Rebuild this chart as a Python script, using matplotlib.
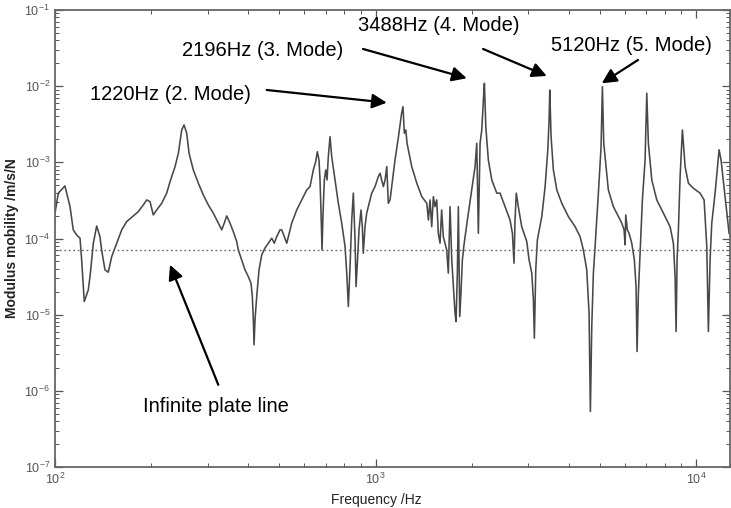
"""Point mobility of a plate: modulus vs frequency, log-log, with mode labels."""
import matplotlib
matplotlib.use("Agg")
import matplotlib.pyplot as plt
from matplotlib.ticker import LogLocator, LogFormatterMathtext, NullFormatter

freq_hz = [
	100, 102.4, 107.4, 111.4, 114.0, 116.9, 119.7, 121.1, 123.4, 127.0, 128.6, 131.7, 134.9, 138.1,
	139.8, 143.2, 146.6, 150.3, 155.8, 161.5, 167.4, 175.5, 181.9, 188.6, 193.3, 197.9, 202.6, 207.6,
	215.2, 223.1, 228.5,
	236.9, 242.6, 248.5, 252.7, 257.6, 261.9, 270.1, 280.0, 290.2, 300.8, 311.8, 323.2, 331.2, 337.4,
	343.3, 351.6, 360.0, 368.9, 373.2, 382.4, 391.6, 401.0, 408.8, 412.7, 415.7, 417.8, 420.7, 425.9,
	433.0, 441.5, 452.1, 463.0, 474.4, 483.3, 491.8, 503.6,
	509.8, 528.4, 547.7, 567.7, 588.5, 610.0, 624.6, 639.6, 650.7, 658.2, 666.3, 671.1, 676.1, 680.9,
	685.8, 692.3, 699.2, 705.8, 712.4, 721.1, 729.9, 747.5, 765.5, 784.4, 803.3, 813.2, 822.6, 832.6,
	842.9, 852.6, 863.0, 869.4, 877.4, 888.2, 901.1, 909.4, 915.9, 927.1, 938.5, 949.5, 973.0, 996.3,
	1020, 1033, 1045, 1058, 1071, 1084, 1096,
	1110, 1123, 1150, 1179, 1206, 1218, 1230, 1243, 1254, 1297, 1345, 1394, 1445, 1462, 1479, 1497,
	1515, 1533, 1552, 1570, 1589, 1608, 1627, 1667, 1687, 1708, 1729, 1749, 1770, 1783, 1800, 1813,
	1831, 1849, 1866, 1885, 1903, 1948, 1996, 2044, 2069, 2093, 2119, 2145, 2170, 2186, 2208, 2249,
	2305, 2389,
	2446, 2536, 2628, 2673, 2704, 2724, 2749, 2789, 2858, 2964, 3013, 3072, 3108, 3130, 3161, 3198,
	3301, 3381, 3447, 3479, 3496, 3529, 3588, 3677, 3811, 3996, 4194, 4346, 4450, 4560, 4636, 4680,
	4727, 4782, 4841, 4957, 5054, 5102, 5152, 5264,
	5325, 5521, 5723, 5864, 5962, 6005, 6035, 6105, 6180, 6300, 6419, 6498, 6545, 6607, 6688, 6800,
	6933, 7018, 7099, 7275, 7541, 7722, 8004, 8297, 8496, 8601, 8663, 8725, 8808, 8916, 9066, 9243,
	9463, 9809, 10292, 10593, 10669, 10800, 10925, 11059, 11194, 11463, 11798, 11967, 12316, 12676,
]
mobility = [
	2.15e-4, 3.94e-4, 4.90e-4, 2.62e-4, 1.30e-4, 1.11e-4, 1.01e-4, 5.24e-5, 1.49e-5, 2.11e-5, 3.16e-5,
	8.67e-5, 1.46e-4, 1.06e-4, 7.08e-5, 3.87e-5, 3.61e-5, 5.79e-5, 8.67e-5, 1.30e-4, 1.67e-4, 1.98e-4,
	2.25e-4, 2.76e-4, 3.21e-4, 3.05e-4, 2.04e-4, 2.37e-4, 2.90e-4, 3.94e-4, 5.58e-4,
	8.79e-4, 1.32e-3, 2.66e-3, 3.10e-3, 2.41e-3, 1.32e-3, 7.94e-4, 5.32e-4, 3.73e-4, 2.76e-4, 2.15e-4,
	1.59e-4, 1.30e-4, 1.59e-4, 1.98e-4, 1.59e-4, 1.23e-4, 9.10e-5, 7.08e-5, 5.24e-5, 3.87e-5, 3.16e-5,
	2.59e-5, 1.73e-5, 8.55e-6, 4.02e-6, 8.55e-6, 1.73e-5, 3.87e-5, 6.10e-5, 7.53e-5, 8.67e-5, 1.01e-4,
	8.67e-5, 1.06e-4, 1.30e-4,
	1.30e-4, 8.67e-5, 1.59e-4, 2.37e-4, 3.21e-4, 4.34e-4, 4.80e-4, 7.94e-4, 1.02e-3, 1.38e-3, 1.07e-3,
	5.87e-4, 2.15e-4, 7.08e-5, 2.15e-4, 5.87e-4, 7.94e-4, 5.87e-4, 1.19e-3, 2.17e-3, 1.19e-3, 5.87e-4,
	2.90e-4, 1.59e-4, 7.83e-5, 3.51e-5, 1.28e-5, 4.28e-5, 1.75e-4, 3.94e-4, 9.59e-5, 2.34e-5, 4.74e-5,
	1.30e-4, 2.37e-4, 1.43e-4, 6.41e-5, 1.43e-4, 2.15e-4, 2.62e-4, 3.94e-4, 4.80e-4, 6.49e-4, 7.19e-4,
	5.87e-4, 4.80e-4, 5.87e-4, 8.79e-4, 2.90e-4,
	3.21e-4, 4.80e-4, 1.07e-3, 2.17e-3, 4.41e-3, 5.38e-3, 2.41e-3, 2.66e-3, 1.78e-3, 8.79e-4, 5.32e-4,
	3.55e-4, 2.90e-4, 1.75e-4, 3.21e-4, 1.43e-4, 3.55e-4, 2.62e-4, 3.21e-4, 1.17e-4, 8.67e-5, 2.37e-4,
	1.06e-4, 7.08e-5, 3.51e-5, 2.62e-4, 5.24e-5, 2.34e-5, 1.05e-5, 8.11e-6, 3.51e-5, 2.62e-4, 9.44e-6,
	2.11e-5, 5.24e-5, 7.83e-5, 1.06e-4, 2.15e-4, 4.34e-4, 8.79e-4, 1.78e-3, 1.17e-4, 1.78e-3, 2.66e-3,
	6.59e-3, 1.09e-2, 2.94e-3, 1.07e-3, 5.87e-4, 3.94e-4,
	3.94e-4, 2.62e-4, 1.75e-4, 1.17e-4, 4.74e-5, 1.75e-4, 3.94e-4, 2.62e-4, 1.43e-4, 9.10e-5, 5.24e-5,
	3.51e-5, 1.56e-5, 4.92e-6, 3.87e-5, 9.59e-5, 1.94e-4, 4.80e-4, 1.46e-3, 3.60e-3, 8.91e-3, 2.17e-3,
	7.94e-4, 4.34e-4, 2.90e-4, 1.94e-4, 1.43e-4, 1.06e-4, 7.08e-5, 3.87e-5, 1.05e-5, 5.35e-7, 6.98e-6,
	3.51e-5, 7.83e-5, 3.94e-4, 1.61e-3, 9.84e-3, 1.78e-3, 7.19e-4,
	4.34e-4, 2.62e-4, 1.94e-4, 1.59e-4, 1.30e-4, 8.24e-5, 2.04e-4, 1.30e-4, 1.17e-4, 8.67e-5, 5.24e-5,
	2.34e-5, 3.28e-6, 1.91e-5, 6.41e-5, 3.21e-4, 1.07e-3, 8.07e-3, 1.78e-3, 5.87e-4, 3.21e-4, 2.62e-4,
	1.94e-4, 1.43e-4, 8.67e-5, 3.16e-5, 6.00e-6, 5.24e-5, 1.30e-4, 6.49e-4, 2.66e-3, 8.79e-4, 5.32e-4,
	4.57e-4, 3.94e-4, 3.21e-4, 1.94e-4, 7.83e-5, 6.00e-6, 5.24e-5, 1.59e-4, 3.94e-4, 1.46e-3, 1.07e-3,
	3.55e-4, 1.17e-4,
]

infinite_plate = 7.1e-5

# annotations: label, label centre (Hz, m/s/N), arrow tail, arrow tip
labels = ["1220Hz (2. Mode)", "2196Hz (3. Mode)", "3488Hz (4. Mode)", "5120Hz (5. Mode)", "Infinite plate line"]
label_pos = [(228.5, 7.67e-3), (445.6, 2.98e-2), (1578, 6.35e-2), (6267, 3.37e-2), (318, 6.16e-7)]
arrow_tail = [(457.6, 8.91e-3), (914, 3.08e-2), (2165, 3.08e-2), (6592, 2.21e-2), (323.2, 1.20e-6)]
arrow_tip = [(1084, 6.07e-3), (1926, 1.27e-2), (3421, 1.36e-2), (5079, 1.09e-2), (228.5, 4.51e-5)]


def main() -> None:
	plt.rcParams["font.family"] = ["Liberation Sans", "DejaVu Sans"]
	plt.rcParams["mathtext.fontset"] = "custom"
	plt.rcParams["mathtext.rm"] = "Liberation Sans"

	fig = plt.figure(figsize=(7.31, 5.08), dpi=100)
	ax = fig.add_axes([55 / 731, 41 / 508, 675 / 731, 457 / 508])

	ax.plot(freq_hz, mobility, color="#484848", lw=1.15)
	ax.axhline(infinite_plate, color="#666666", lw=1.0, ls=(0, (1.2, 2.0)))

	ax.set_xscale("log")
	ax.set_yscale("log")
	ax.set_xlim(100, 12760)
	ax.set_ylim(1e-7, 1e-1)

	ax.xaxis.set_major_locator(LogLocator(base=10, numticks=10))
	ax.yaxis.set_major_locator(LogLocator(base=10, numticks=10))
	ax.xaxis.set_minor_locator(LogLocator(base=10, subs=range(2, 10), numticks=20))
	ax.yaxis.set_minor_locator(LogLocator(base=10, subs=range(2, 10), numticks=20))
	ax.xaxis.set_major_formatter(LogFormatterMathtext())
	ax.yaxis.set_major_formatter(LogFormatterMathtext())
	ax.xaxis.set_minor_formatter(NullFormatter())
	ax.yaxis.set_minor_formatter(NullFormatter())
	ax.tick_params(which="both", direction="in", top=True, right=True, color="#555555",
		labelcolor="#555555", labelsize=9)
	ax.tick_params(which="major", length=6, width=0.9)
	ax.tick_params(which="minor", length=3, width=0.7)
	for sp in ax.spines.values():
		sp.set_color("#666666")
		sp.set_linewidth(1.3)

	ax.set_ylabel("Modulus mobility /m/s/N", fontsize=10, fontweight="bold", color="#222222")
	ax.yaxis.set_label_coords(-0.054, 0.5)
	ax.set_xlabel("Frequency /Hz", fontsize=10, color="#222222")
	ax.xaxis.set_label_coords(0.476, -0.057)

	for text, pos, tail, tip in zip(labels, label_pos, arrow_tail, arrow_tip):
		ax.text(pos[0], pos[1], text, fontsize=14.5, ha="center", va="center", color="black")
		ax.annotate("", xy=tip, xytext=tail,
			arrowprops=dict(arrowstyle="-|>", color="black", lw=1.6, mutation_scale=22,
				shrinkA=0, shrinkB=0))

	fig.savefig("out.png", dpi=100)


if __name__ == "__main__":
	main()
